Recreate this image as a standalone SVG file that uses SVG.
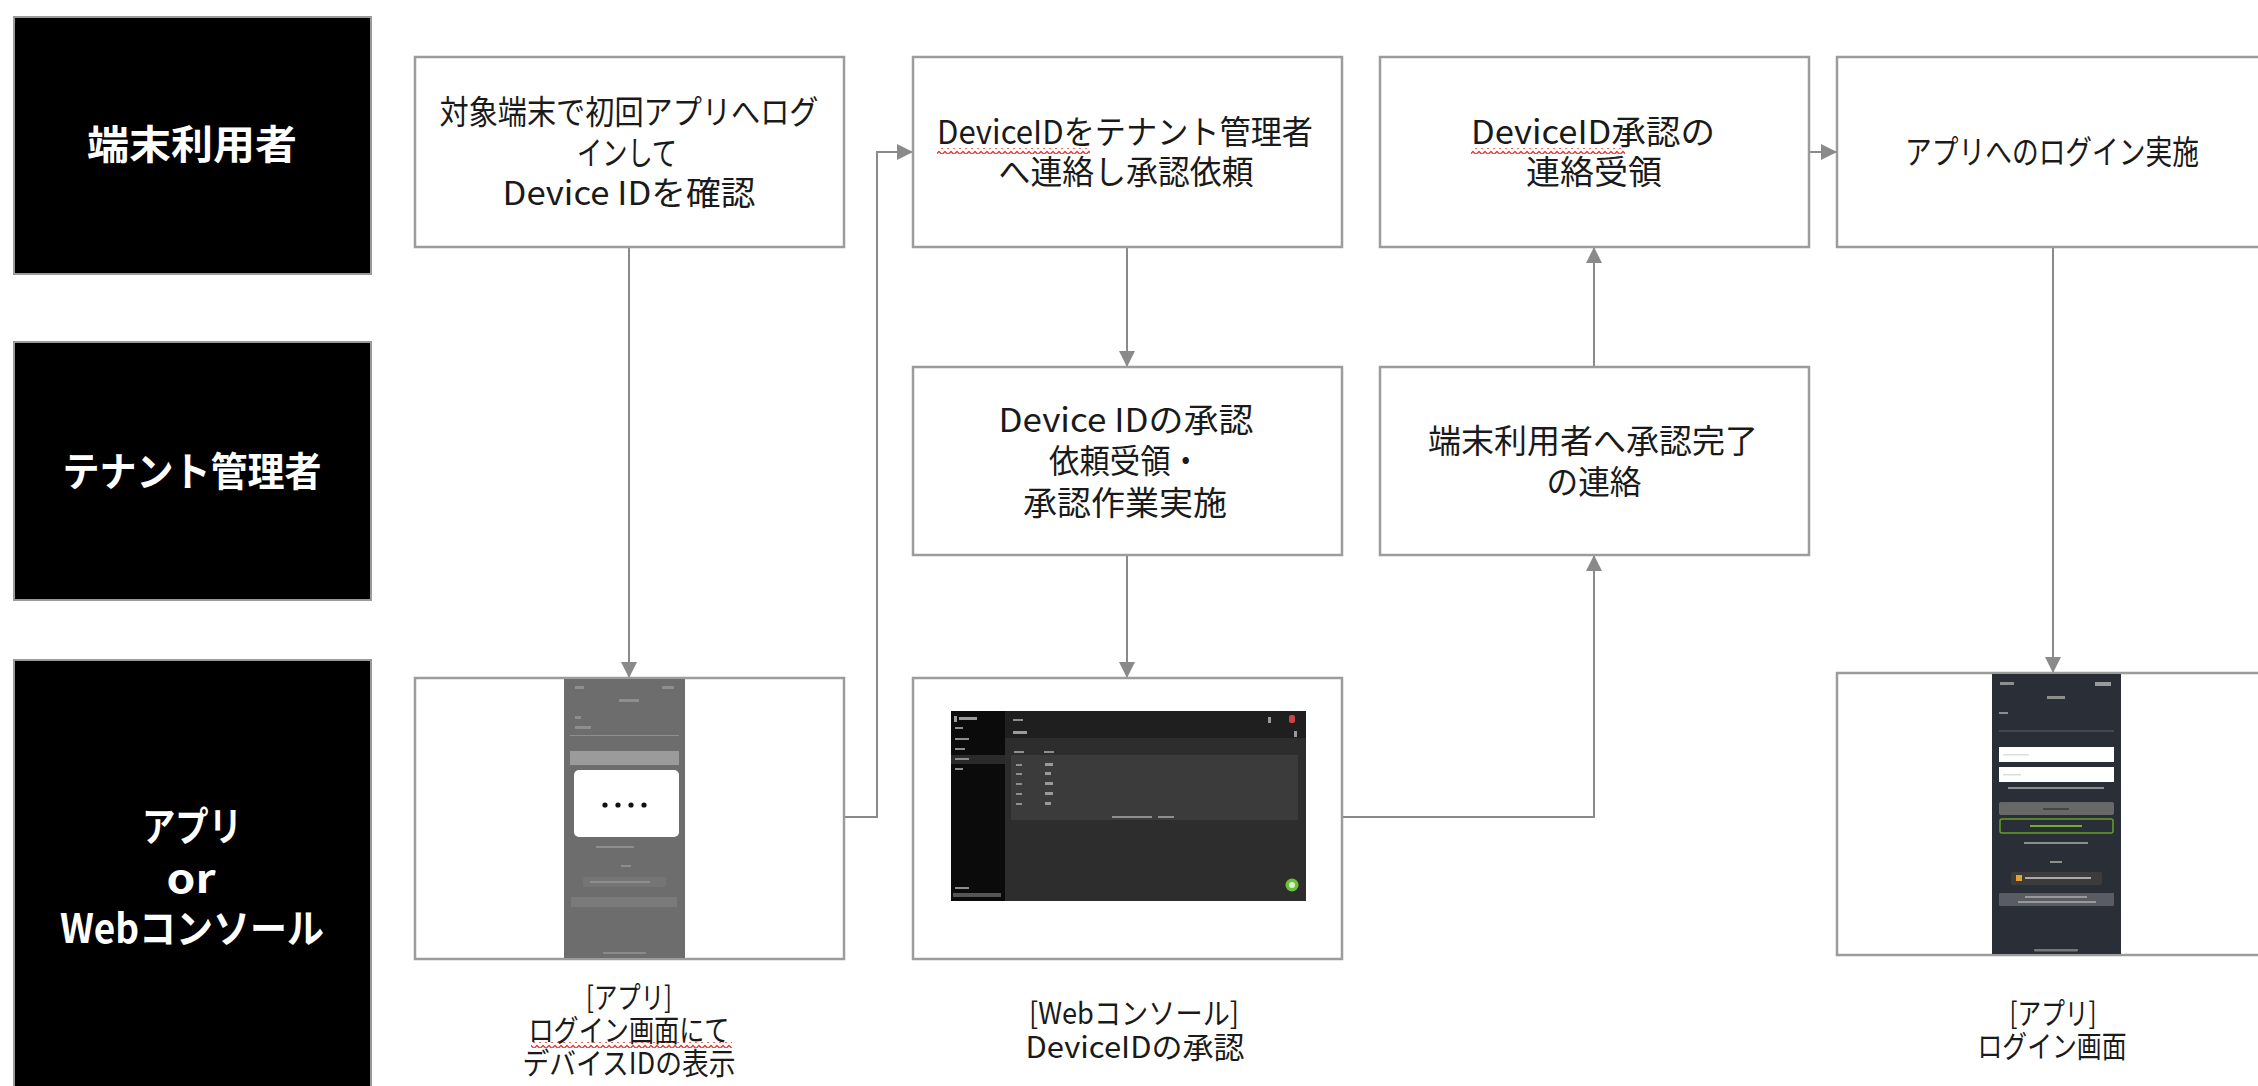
<svg xmlns="http://www.w3.org/2000/svg" width="2258" height="1086" viewBox="0 0 2258 1086">
<style>
.lane{fill:#000;stroke:#9a9a9a;stroke-width:2}
.lt{fill:#fff;font-family:"Noto Sans CJK JP","Noto Sans",sans-serif;font-weight:bold;font-size:40px;text-anchor:middle}
.box{fill:#fff;stroke:#9c9c9c;stroke-width:2.5}
.t{fill:#1a1a1a;font-family:"Noto Sans CJK JP","Noto Sans",sans-serif;font-size:33px;text-anchor:middle}
.cap{fill:#1a1a1a;font-family:"Noto Sans CJK JP","Noto Sans",sans-serif;font-size:30px;text-anchor:middle}
.conn{fill:none;stroke:#8a8a8a;stroke-width:2}
.faint{fill:#8e8e8e}
.wf{fill:#9a9a9a}
</style>
<defs>
<marker id="arr" markerUnits="userSpaceOnUse" markerWidth="16" markerHeight="16" refX="16" refY="8" orient="auto">
<path d="M0,0 L16,8 L0,16 z" fill="#8a8a8a"/>
</marker>
<pattern id="wavy" patternUnits="userSpaceOnUse" width="6" height="6">
<path d="M0,4.5 L3,1.5 L6,4.5" fill="none" stroke="#e03a2f" stroke-width="1.3"/>
</pattern>
</defs>
<rect width="2258" height="1086" fill="#fff"/>

<g id="lane-user">
<rect class="lane" x="14" y="17" width="357" height="257"/>
<text class="lt" x="192" y="159" textLength="210" lengthAdjust="spacingAndGlyphs">端末利用者</text>
</g>
<g id="lane-admin">
<rect class="lane" x="14" y="342" width="357" height="258"/>
<text class="lt" x="192" y="486" textLength="259" lengthAdjust="spacingAndGlyphs">テナント管理者</text>
</g>
<g id="lane-app">
<rect class="lane" x="14" y="660" width="357" height="440"/>
<text class="lt" x="192" y="841" textLength="100" lengthAdjust="spacingAndGlyphs">アプリ</text>
<text class="lt" x="191" y="893" textLength="49" lengthAdjust="spacingAndGlyphs">or</text>
<text class="lt" x="192" y="943" textLength="264" lengthAdjust="spacingAndGlyphs">Webコンソール</text>
</g>

<g id="connectors">
<path class="conn" d="M629,247 V678" marker-end="url(#arr)"/>
<path class="conn" d="M844,817 H877 V152 H913" marker-end="url(#arr)"/>
<path class="conn" d="M1127,247 V367" marker-end="url(#arr)"/>
<path class="conn" d="M1127,555 V678" marker-end="url(#arr)"/>
<path class="conn" d="M1342,817 H1594 V555" marker-end="url(#arr)"/>
<path class="conn" d="M1594,367 V247" marker-end="url(#arr)"/>
<path class="conn" d="M1809,152 H1837" marker-end="url(#arr)"/>
<path class="conn" d="M2053,247 V673" marker-end="url(#arr)"/>
</g>

<g id="node-a">
<rect class="box" x="415" y="57" width="429" height="190"/>
<text class="t" x="629" y="124" textLength="379" lengthAdjust="spacingAndGlyphs">対象端末で初回アプリへログ</text>
<text class="t" x="627" y="165" textLength="100" lengthAdjust="spacingAndGlyphs">インして</text>
<text class="t" x="629" y="205" textLength="253" lengthAdjust="spacingAndGlyphs">Device IDを確認</text>
</g>
<g id="node-b">
<rect class="box" x="913" y="57" width="429" height="190"/>
<text class="t" x="1125" y="144" textLength="376" lengthAdjust="spacingAndGlyphs">DeviceIDをテナント管理者</text>
<text class="t" x="1126" y="184" textLength="255" lengthAdjust="spacingAndGlyphs">へ連絡し承認依頼</text>
<rect x="937" y="148" width="153" height="6" fill="url(#wavy)"/>
</g>
<g id="node-c">
<rect class="box" x="1380" y="57" width="429" height="190"/>
<text class="t" x="1593" y="144" textLength="244" lengthAdjust="spacingAndGlyphs">DeviceID承認の</text>
<text class="t" x="1594" y="184" textLength="136" lengthAdjust="spacingAndGlyphs">連絡受領</text>
<rect x="1471" y="148" width="154" height="6" fill="url(#wavy)"/>
</g>
<g id="node-d">
<rect class="box" x="1837" y="57" width="440" height="190"/>
<text class="t" x="2052" y="164" textLength="294" lengthAdjust="spacingAndGlyphs">アプリへのログイン実施</text>
</g>
<g id="node-e">
<rect class="box" x="913" y="367" width="429" height="188"/>
<text class="t" x="1126" y="432" textLength="255" lengthAdjust="spacingAndGlyphs">Device IDの承認</text>
<text class="t" x="1125" y="473" textLength="152" lengthAdjust="spacingAndGlyphs">依頼受領・</text>
<text class="t" x="1125" y="515" textLength="204" lengthAdjust="spacingAndGlyphs">承認作業実施</text>
</g>
<g id="node-f">
<rect class="box" x="1380" y="367" width="429" height="188"/>
<text class="t" x="1593" y="453" textLength="330" lengthAdjust="spacingAndGlyphs">端末利用者へ承認完了</text>
<text class="t" x="1594" y="494" textLength="95" lengthAdjust="spacingAndGlyphs">の連絡</text>
</g>

<g id="node-g">
<rect class="box" x="415" y="678" width="429" height="281"/>
<rect x="564" y="679" width="121" height="279" fill="#6d6d6d"/>
<rect class="faint" x="575" y="686" width="9" height="3"/>
<rect class="faint" x="662" y="686" width="12" height="3"/>
<rect class="faint" x="619" y="699" width="20" height="3"/>
<rect class="faint" x="575" y="716" width="6" height="3"/>
<rect class="faint" x="575" y="726" width="16" height="3"/>
<rect class="faint" x="570" y="735" width="109" height="1"/>
<rect x="570" y="751" width="109" height="14" fill="#9b9b9b"/>
<rect x="574" y="770" width="105" height="67" rx="5" fill="#fff"/>
<circle cx="605" cy="805" r="2.6" fill="#111"/>
<circle cx="618" cy="805" r="2.6" fill="#111"/>
<circle cx="631" cy="805" r="2.6" fill="#111"/>
<circle cx="644" cy="805" r="2.6" fill="#111"/>
<rect class="faint" x="596" y="846" width="38" height="2"/>
<rect class="faint" x="621" y="865" width="10" height="2"/>
<rect x="583" y="877" width="83" height="10" rx="2" fill="#757575"/>
<rect class="faint" x="590" y="881" width="60" height="2"/>
<rect x="571" y="897" width="106" height="10" fill="#7a7a7a"/>
<rect x="603" y="952" width="43" height="2" fill="#8a8a8a"/>
</g>
<g id="node-h">
<rect class="box" x="913" y="678" width="429" height="281"/>
<rect x="951" y="711" width="355" height="190" fill="#2d2d2d"/>
<rect x="951" y="711" width="54" height="190" fill="#0b0b0b"/>
<rect x="1005" y="711" width="301" height="27" fill="#1f1f1f"/>
<rect x="1011" y="755" width="287" height="65" fill="#3b3b3b"/>
<rect class="wf" x="954" y="716" width="3" height="6"/>
<rect class="wf" x="959" y="717" width="18" height="3"/>
<rect class="faint" x="955" y="727" width="8" height="2"/>
<rect class="faint" x="955" y="738" width="14" height="2"/>
<rect class="faint" x="955" y="748" width="10" height="2"/>
<rect x="951" y="755" width="54" height="9" fill="#2a2a2a"/>
<rect class="faint" x="955" y="758" width="14" height="2"/>
<rect class="faint" x="955" y="768" width="8" height="2"/>
<rect class="faint" x="955" y="887" width="14" height="2"/>
<rect x="953" y="893" width="48" height="4" fill="#555"/>
<rect class="faint" x="1013" y="719" width="10" height="2"/>
<rect class="wf" x="1013" y="731" width="14" height="3"/>
<rect class="wf" x="1268" y="717" width="3" height="6"/>
<rect x="1289" y="715" width="6" height="8" rx="2" fill="#c44"/>
<rect class="wf" x="1294" y="731" width="3" height="6"/>
<rect class="faint" x="1014" y="751" width="10" height="2"/>
<rect class="faint" x="1044" y="751" width="10" height="2"/>
<rect class="faint" x="1016" y="764" width="6" height="2"/><rect class="wf" x="1045" y="763" width="8" height="3"/>
<rect class="faint" x="1016" y="773" width="6" height="2"/><rect class="wf" x="1045" y="772" width="6" height="3"/>
<rect class="faint" x="1016" y="783" width="6" height="2"/><rect class="wf" x="1045" y="782" width="8" height="3"/>
<rect class="faint" x="1016" y="793" width="6" height="2"/><rect class="wf" x="1045" y="792" width="8" height="3"/>
<rect class="faint" x="1016" y="803" width="6" height="2"/><rect class="wf" x="1045" y="802" width="6" height="3"/>
<rect class="faint" x="1112" y="816" width="40" height="2"/>
<rect class="faint" x="1158" y="816" width="16" height="2"/>
<circle cx="1292" cy="885" r="6.5" fill="#6cc03c"/>
<circle cx="1292" cy="885" r="3" fill="#d8f5c8"/>
</g>
<g id="node-i">
<rect class="box" x="1837" y="673" width="440" height="282"/>
<rect x="1992" y="674" width="129" height="280" fill="#2a2e36"/>
<rect class="faint" x="2000" y="682" width="14" height="3"/>
<rect class="wf" x="2095" y="682" width="16" height="4"/>
<rect class="faint" x="2047" y="696" width="18" height="3"/>
<rect class="faint" x="1999" y="712" width="9" height="2"/>
<rect x="1999" y="730" width="115" height="2" fill="#454850"/>
<rect x="1999" y="747" width="115" height="15" fill="#fff"/>
<rect x="1999" y="767" width="115" height="15" fill="#fff"/>
<rect x="2003" y="754" width="26" height="1.5" fill="#ddd"/>
<rect x="2003" y="774" width="18" height="1.5" fill="#ddd"/>
<rect class="faint" x="2008" y="787" width="96" height="2"/>
<rect x="1999" y="802" width="115" height="13" rx="2" fill="#686868"/>
<rect x="2043" y="808" width="26" height="2" fill="#444"/>
<rect x="2000" y="819" width="113" height="14" rx="2" fill="none" stroke="#63a02a" stroke-width="1.5"/>
<rect x="2030" y="825" width="52" height="2" fill="#6fae2e"/>
<rect class="faint" x="2024" y="842" width="64" height="2"/>
<rect class="faint" x="2050" y="861" width="12" height="2"/>
<rect x="2011" y="872" width="91" height="13" rx="2" fill="#3c3c3c"/>
<rect x="2016" y="875" width="6" height="6" fill="#e8a030"/>
<rect x="2025" y="877" width="66" height="2" fill="#aaa"/>
<rect x="1999" y="893" width="115" height="13" rx="1" fill="#595c62"/>
<rect x="2025" y="896" width="62" height="2" fill="#999"/>
<rect x="2018" y="901" width="78" height="2" fill="#999"/>
<rect x="2034" y="949" width="44" height="2.5" rx="1" fill="#777"/>
</g>

<g id="captions">
<text class="cap" x="629" y="1008" textLength="86" lengthAdjust="spacingAndGlyphs">[アプリ]</text>
<text class="cap" x="629" y="1041" textLength="201" lengthAdjust="spacingAndGlyphs">ログイン画面にて</text>
<rect x="531" y="1042" width="201" height="6" fill="url(#wavy)"/>
<text class="cap" x="629" y="1074" textLength="213" lengthAdjust="spacingAndGlyphs">デバイスIDの表示</text>
<text class="cap" x="1134" y="1024" textLength="210" lengthAdjust="spacingAndGlyphs">[Webコンソール]</text>
<text class="cap" x="1135" y="1058" textLength="219" lengthAdjust="spacingAndGlyphs">DeviceIDの承認</text>
<text class="cap" x="2053" y="1024" textLength="87" lengthAdjust="spacingAndGlyphs">[アプリ]</text>
<text class="cap" x="2052" y="1057" textLength="149" lengthAdjust="spacingAndGlyphs">ログイン画面</text>
</g>
</svg>
